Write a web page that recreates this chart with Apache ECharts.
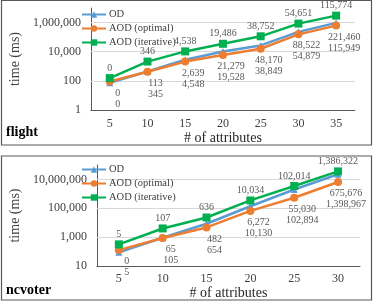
<!DOCTYPE html>
<html><head><meta charset="utf-8">
<script src="https://cdn.jsdelivr.net/npm/echarts@6/dist/echarts.min.js"></script>
<style>html,body{margin:0;padding:0;background:#fff}#c{width:374px;height:302px}</style>
</head><body><div id="c"></div>
<script>
// ---- flight ----
const flightCats = ['5','10','15','20','25','30','35'];
const flightOD = [75, 440, 2800, 10500, 27000, 230000, 950000];
const flightOpt = [90, 420, 2100, 5900, 16000, 155000, 620000];
const flightIter = [155, 2100, 10500, 35000, 114000, 850000, 3000000];
const flightODLabels = ['0','113','2,639','21,279','48,170','88,522','221,460'];
const flightOptLabels = ['0','345','4,548','19,528','38,849','54,879','115,949'];
const flightIterLabels = ['0','346','4,538','19,486','38,752','54,651','115,774'];
const flightTicks = [1, 100, 10000, 1000000];
// ---- ncvoter ----
const ncCats = ['5','10','15','20','25','30'];
const ncOD = [90, 900, 8500, 138000, 2000000, 23000000];
const ncOpt = [126, 870, 4700, 66000, 540000, 6600000];
const ncIter = [316, 4000, 23000, 350000, 3500000, 36000000];
const ncODLabels = ['0','65','482','6,272','55,030','675,676'];
const ncOptLabels = ['5','105','654','10,130','102,894','1,398,967'];
const ncIterLabels = ['5','107','636','10,034','102,014','1,386,322'];
const ncTicks = [10, 1000, 100000, 10000000];

const FONT = '"Liberation Serif", "Times New Roman", serif';
const names = ['OD', 'AOD (optimal)', 'AOD (iterative)'];
const colors = ['#5B9BD5', '#ED7D31', '#00B050'];

function yAxis(grid, min, max, ticks) {
  return {
    type: 'log', logBase: 10, gridIndex: grid, min: min, max: max,
    name: 'time (ms)', nameLocation: 'middle', nameGap: 60,
    nameTextStyle: {fontFamily: FONT, fontSize: 14, color: '#404040'},
    axisLine: {show: true, lineStyle: {color: '#595959', width: 1}},
    axisTick: {show: false},
    splitLine: {show: false},
    axisLabel: {
      fontFamily: FONT, fontSize: 12, color: '#404040', margin: 10,
      formatter: function (v) {
        const hit = ticks.find(t => Math.abs(Math.log10(t) - Math.log10(v)) < 1e-6);
        return hit !== undefined ? hit.toLocaleString('en-US') : '';
      }
    }
  };
}
function xAxis(grid, cats, margin, gap) {
  return {
    type: 'category', gridIndex: grid, data: cats,
    name: '# of attributes', nameLocation: 'middle', nameGap: gap,
    nameTextStyle: {fontFamily: FONT, fontSize: 14, color: '#262626'},
    axisLine: {lineStyle: {color: '#595959', width: 1}},
    axisTick: {show: false},
    axisLabel: {fontFamily: FONT, fontSize: 12, color: '#404040', margin: margin}
  };
}
function series(grid, od, opt, iter, odL, optL, iterL, ticks) {
  const lab = {fontFamily: FONT, fontSize: 10, color: '#595959'};
  return [
    {
      name: names[0], type: 'line', xAxisIndex: grid, yAxisIndex: grid, data: od,
      symbol: 'triangle', symbolSize: 7, color: colors[0],
      lineStyle: {width: 2.5, color: colors[0]}, itemStyle: {color: colors[0]}, z: 3,
      markLine: {
        silent: true, symbol: 'none', z: 1, animation: false,
        label: {show: false},
        lineStyle: {color: '#d9d9d9', type: 'solid', width: 1},
        data: ticks.slice(1).map(t => ({yAxis: t}))
      }
    },
    {
      name: names[1], type: 'line', xAxisIndex: grid, yAxisIndex: grid, data: opt,
      symbol: 'circle', symbolSize: 8, color: colors[1],
      lineStyle: {width: 2.5, color: colors[1]}, itemStyle: {color: colors[1]}, z: 4,
      label: Object.assign({
        show: true, position: 'bottom', distance: 2, offset: [8, 0], lineHeight: 11,
        formatter: p => odL[p.dataIndex] + '\n' + optL[p.dataIndex]
      }, lab)
    },
    {
      name: names[2], type: 'line', xAxisIndex: grid, yAxisIndex: grid, data: iter,
      symbol: 'rect', symbolSize: 8, color: colors[2],
      lineStyle: {width: 2.5, color: colors[2]}, itemStyle: {color: colors[2]}, z: 5,
      label: Object.assign({
        show: true, position: 'top', distance: 1,
        formatter: p => iterL[p.dataIndex]
      }, lab)
    }
  ];
}
function legend(top) {
  return {
    data: names, orient: 'vertical', left: 76, top: top, itemGap: 3,
    itemWidth: 24, itemHeight: 8,
    textStyle: {fontFamily: FONT, fontSize: 10.5, color: '#404040', padding: [0, 0, 0, -2]}
  };
}

const chart = echarts.init(document.getElementById('c'), null, {renderer: 'canvas'});
chart.setOption({
  animation: false,
  backgroundColor: '#fff',
  grid: [
    {left: 77, right: 19, top: 8, bottom: 192},
    {left: 76, right: 14, top: 165, bottom: 36}
  ],
  legend: [legend(4), legend(159)],
  xAxis: [xAxis(0, flightCats, 8, 16), xAxis(1, ncCats, 7, 18)],
  yAxis: [yAxis(0, 1, 10000000, flightTicks), yAxis(1, 10, 100000000, ncTicks)],
  series: [].concat(
    series(0, flightOD, flightOpt, flightIter, flightODLabels, flightOptLabels, flightIterLabels, flightTicks),
    series(1, ncOD, ncOpt, ncIter, ncODLabels, ncOptLabels, ncIterLabels, ncTicks)
  ),
  graphic: [
    {type: 'rect', shape: {x: 1.5, y: 0.5, width: 370, height: 144.5}, style: {fill: 'none', stroke: '#595959', lineWidth: 1.2}, silent: true},
    {type: 'rect', shape: {x: 1.5, y: 156, width: 370, height: 144}, style: {fill: 'none', stroke: '#595959', lineWidth: 1.2}, silent: true},
    {type: 'text', left: 6, top: 125, style: {text: 'flight', font: 'bold 14px ' + FONT, fill: '#000'}},
    {type: 'text', left: 6, top: 283, style: {text: 'ncvoter', font: 'bold 14px ' + FONT, fill: '#000'}}
  ]
});
</script></body></html>
